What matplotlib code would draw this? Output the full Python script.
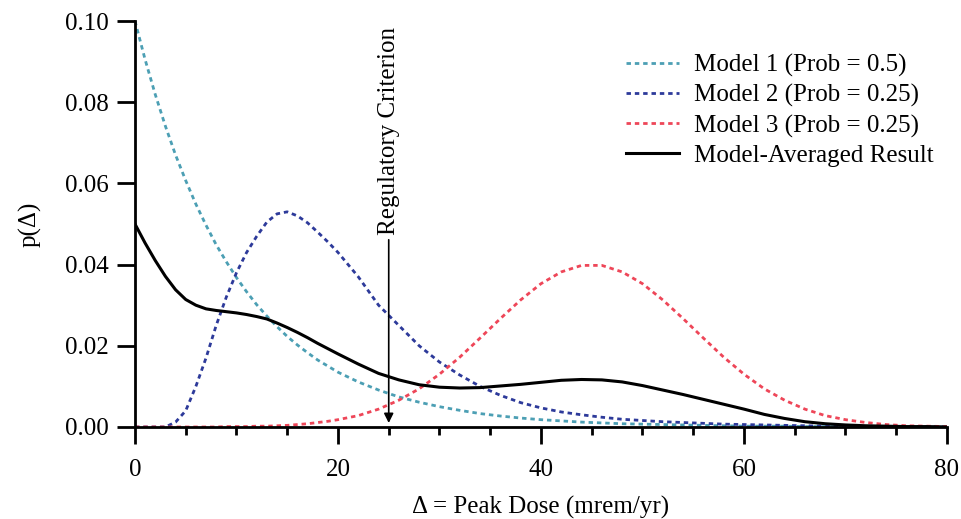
import matplotlib.pyplot as plt

plt.rcParams['font.family'] = ['Liberation Serif', 'DejaVu Serif']

# peak dose grid (mrem/yr) and densities
dose = [0, 1, 2, 3, 4, 5, 6, 7, 8, 9, 10, 11, 12, 13, 14, 15, 16, 17, 18, 19, 20,
        22, 24, 26, 28, 30, 32, 34, 36, 38, 40, 42, 44, 46, 48, 50,
        52, 54, 56, 58, 60, 62, 64, 66, 68, 70, 72, 74, 76, 78, 80]

model1 = [0.1000, 0.0905, 0.0819, 0.0741, 0.0670, 0.0607, 0.0549, 0.0497, 0.0449, 0.0407,
          0.0368, 0.0333, 0.0301, 0.0273, 0.0247, 0.0223, 0.0202, 0.0183, 0.0165, 0.0150,
          0.0135, 0.0111, 0.0091, 0.0074, 0.0061, 0.0050, 0.0041, 0.0033, 0.0027, 0.0022,
          0.0018, 0.0015, 0.0012, 0.0010, 0.0008, 0.0007, 0.0006, 0.0005, 0.0004, 0.0003,
          0.0002, 0.0002, 0.0002, 0.0001, 0.0001, 0.0001, 0.0001, 0.0001, 0.0000, 0.0000, 0.0000]

model2 = [0.0000, 0.0000, 0.0000, 0.0000, 0.0012, 0.0040, 0.0100, 0.0170, 0.0250, 0.0320,
          0.0380, 0.0430, 0.0470, 0.0505, 0.0525, 0.0530, 0.0520, 0.0503, 0.0480, 0.0456,
          0.0430, 0.0370, 0.0300, 0.0250, 0.0200, 0.0160, 0.0128, 0.0100, 0.0078, 0.0060,
          0.0047, 0.0037, 0.0030, 0.0024, 0.0019, 0.0016, 0.0013, 0.0011, 0.0009, 0.0007,
          0.0006, 0.0005, 0.0004, 0.0003, 0.0002, 0.0002, 0.0001, 0.0001, 0.0001, 0.0001, 0.0000]

model3 = [0.0000, 0.0000, 0.0000, 0.0000, 0.0000, 0.0000, 0.0000, 0.0000, 0.0000, 0.0001,
          0.0001, 0.0001, 0.0002, 0.0002, 0.0003, 0.0004, 0.0006, 0.0008, 0.0011, 0.0014,
          0.0018, 0.0028, 0.0044, 0.0066, 0.0094, 0.0130, 0.0172, 0.0219, 0.0267, 0.0313,
          0.0353, 0.0382, 0.0398, 0.0398, 0.0382, 0.0353, 0.0313, 0.0267, 0.0219, 0.0172,
          0.0130, 0.0094, 0.0066, 0.0044, 0.0028, 0.0018, 0.0011, 0.0006, 0.0003, 0.0002, 0.0001]

averaged = [0.0500, 0.0453, 0.0410, 0.0371, 0.0338, 0.0314, 0.0300, 0.0291, 0.0287, 0.0284,
            0.0281, 0.0277, 0.0272, 0.0266, 0.0256, 0.0245, 0.0233, 0.0220, 0.0206, 0.0193,
            0.0180, 0.0155, 0.0132, 0.0116, 0.0104, 0.0098, 0.0096, 0.0097, 0.0101, 0.0105,
            0.0110, 0.0115, 0.0117, 0.0116, 0.0111, 0.0102, 0.0091, 0.0080, 0.0068, 0.0056,
            0.0044, 0.0031, 0.0021, 0.0013, 0.0008, 0.0005, 0.0003, 0.0002, 0.0001, 0.0001, 0.0000]

labels = ['Model 1 (Prob = 0.5)', 'Model 2 (Prob = 0.25)', 'Model 3 (Prob = 0.25)',
          'Model-Averaged Result']
criterion = 25

fig = plt.figure(figsize=(9.62, 5.19), dpi=100)
ax = fig.add_axes([0.1403, 0.1773, 0.8441, 0.7822])

dash = (1.6, 1.4)
ax.plot(dose, model1, color='#4c9fb4', lw=2, dashes=dash, label=labels[0])
ax.plot(dose, model2, color='#2d3a9a', lw=2, dashes=dash, label=labels[1])
ax.plot(dose, model3, color='#ee4658', lw=2, dashes=dash, label=labels[2])
ax.plot(dose, averaged, color='black', lw=2.2, label=labels[3])

# regulatory criterion arrow and label
ax.annotate('', xy=(criterion, 0.0003), xytext=(criterion, 0.0468),
            arrowprops=dict(arrowstyle='-|>', color='black', lw=1.2, mutation_scale=14))
ax.text(criterion, 0.0472, 'Regulatory Criterion', rotation=90, ha='center', va='bottom',
        fontsize=18)

ax.set_xlim(0, 80)
ax.set_ylim(0, 0.10)
ax.set_xticks([0, 20, 40, 60, 80])
ax.set_xticks(range(0, 81, 5), minor=True)
ax.set_yticks([0.00, 0.02, 0.04, 0.06, 0.08, 0.10])
ax.set_yticklabels(['0.00', '0.02', '0.04', '0.06', '0.08', '0.10'])

for side in ['top', 'right']:
    ax.spines[side].set_visible(False)
for side in ['left', 'bottom']:
    ax.spines[side].set_linewidth(2)

ax.tick_params(axis='x', which='major', length=12, width=2, pad=11, labelsize=18)
ax.tick_params(axis='x', which='minor', length=6, width=2)
ax.tick_params(axis='y', which='major', length=13, width=2, pad=6, labelsize=18)

ax.set_xlabel('Δ = Peak Dose (mrem/yr)', fontsize=18, labelpad=11)
ax.set_ylabel('p(Δ)', fontsize=18, labelpad=17)

ax.legend(loc='upper right', bbox_to_anchor=(0.983, 0.918), frameon=False, fontsize=18,
          handlelength=2.1, handletextpad=0.6, labelspacing=0.28, borderpad=0,
          borderaxespad=0)

fig.savefig('out.png', dpi=100)
